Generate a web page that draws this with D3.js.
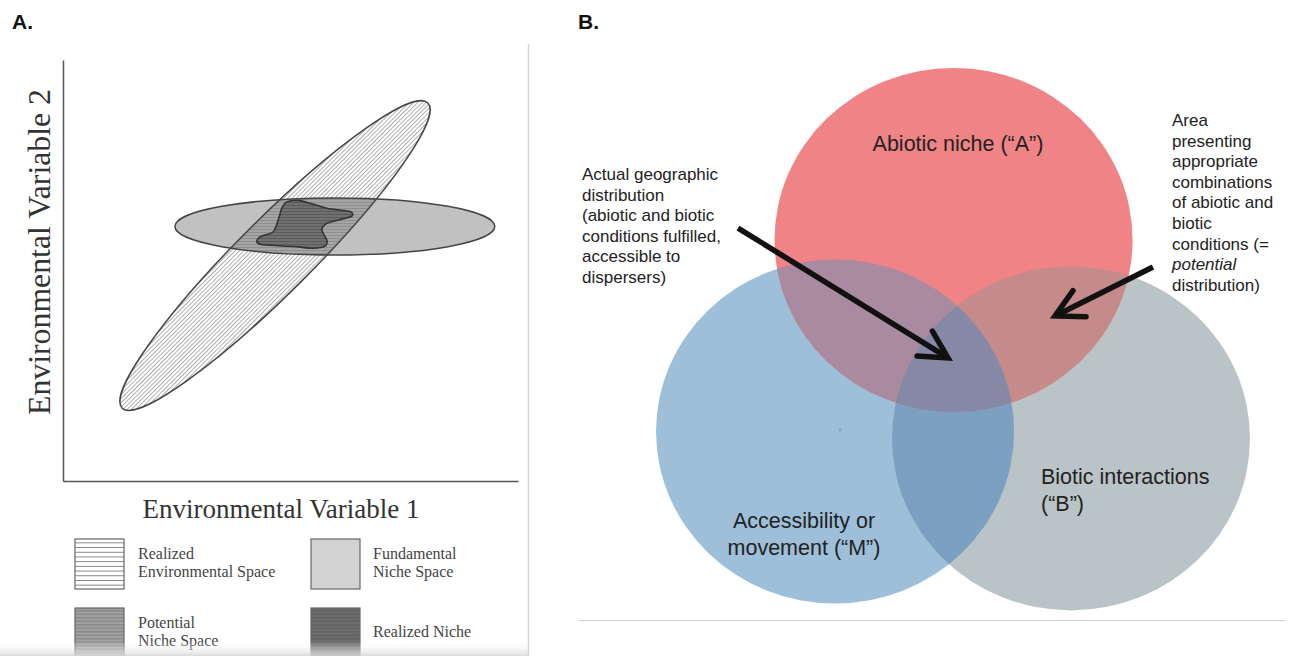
<!DOCTYPE html>
<html><head><meta charset="utf-8">
<script src="https://cdn.jsdelivr.net/npm/d3@7"></script>
<style>html,body{margin:0;padding:0;background:#fff;}svg{display:block}</style>
</head><body>
<svg id="chart" width="1294" height="656"></svg>
<script>
// ---------- Panel A data (abstract environmental units, 0–10) ----------
const panelLetters = ["A.", "B."];
const envAxisLabels = ["Environmental Variable 1", "Environmental Variable 2"];
const realizedEnvEndsX = [1.30, 8.02];     // diagonal ellipse, major-axis ends
const realizedEnvEndsY = [1.73, 8.98];
const realizedEnvHalfWidth = [0.81];       // minor semi-axis (x units)
const fundamentalX = [2.46, 9.49];         // horizontal ellipse extent
const fundamentalY = [6.045];
const fundamentalHalfHeight = [0.677];
const nicheBlobX = [4.92, 5.21, 5.80, 6.31, 6.35, 6.13, 5.80, 5.69, 5.80, 5.76, 5.50, 5.06, 4.40, 4.26, 4.33, 4.62, 4.73, 4.81];
const nicheBlobY = [6.63, 6.66, 6.48, 6.40, 6.29, 6.22, 6.12, 5.96, 5.72, 5.58, 5.53, 5.57, 5.61, 5.68, 5.80, 5.92, 6.20, 6.48];
const legendLabels = [["Realized", "Environmental Space"], ["Fundamental", "Niche Space"], ["Potential", "Niche Space"], ["Realized Niche"]];

// ---------- Panel B data (abstract units) ----------
const vennLabels = [["Abiotic niche (“A”)"], ["Accessibility or", "movement (“M”)"], ["Biotic interactions", "(“B”)"]];
const vennCX = [209.8, 143.6, 275.4];
const vennCY = [139.5, 250.9, 254.9];
const vennR = [100, 100, 100];
const annotLeft = ["Actual geographic", "distribution", "(abiotic and biotic", "conditions fulfilled,", "accessible to", "dispersers)"];
const annotRight = ["Area", "presenting", "appropriate", "combinations", "of abiotic and", "biotic", "conditions (=", "potential", "distribution)"];
const arrowTailX = [89.4, 321.2], arrowTailY = [132.6, 155.2];
const arrowTipX = [206.7, 266.5], arrowTipY = [208.1, 183.7];

const svg = d3.select("#chart");
const defs = svg.append("defs");
const sans = "'Liberation Sans', Arial, Helvetica, sans-serif";
const serif = "'Liberation Serif', 'Times New Roman', serif";

// patterns
function hatch(id, spacing, color, width, bg) {
  const p = defs.append("pattern").attr("id", id).attr("patternUnits", "userSpaceOnUse")
    .attr("width", 10).attr("height", spacing);
  if (bg) p.append("rect").attr("width", 10).attr("height", spacing).attr("fill", bg);
  p.append("line").attr("x1", 0).attr("x2", 10).attr("y1", spacing / 2).attr("y2", spacing / 2)
    .attr("stroke", color).attr("stroke-width", width);
}
hatch("hatchWhite", 3, "#9a9a9a", 0.8, "#ffffff");
hatch("hatchOver", 3, "#8a8a8a", 0.8, null);
hatch("hatchDark", 3, "#555", 0.8, null);
hatch("legHatch", 4.7, "#777", 0.9, "#ffffff");
hatch("legHatchMid", 3.5, "#7c7c7c", 1, "#a2a2a2");
hatch("legHatchDark", 3.5, "#585858", 1, "#6e6e6e");

// ---------- Panel A ----------
const xA = d3.scaleLinear().domain([0, 10]).range([63, 518]);
const yA = d3.scaleLinear().domain([0, 10]).range([481, 60]);

svg.append("text").attr("x", 12).attr("y", 29).text(panelLetters[0])
  .attr("font-family", sans).attr("font-weight", "bold").attr("font-size", 21).attr("fill", "#111");

// diagonal ellipse geometry
const p1 = [xA(realizedEnvEndsX[0]), yA(realizedEnvEndsY[0])];
const p2 = [xA(realizedEnvEndsX[1]), yA(realizedEnvEndsY[1])];
const dCx = (p1[0] + p2[0]) / 2, dCy = (p1[1] + p2[1]) / 2;
const dRx = Math.hypot(p2[0] - p1[0], p2[1] - p1[1]) / 2;
const dRy = xA(realizedEnvHalfWidth[0]) - xA(0);
const dAng = Math.atan2(p2[1] - p1[1], p2[0] - p1[0]) * 180 / Math.PI;
function diagEllipse(sel) {
  return sel.append("ellipse").attr("cx", 0).attr("cy", 0).attr("rx", dRx).attr("ry", dRy)
    .attr("transform", `translate(${dCx},${dCy}) rotate(${dAng})`);
}
// horizontal ellipse geometry
const hCx = xA((fundamentalX[0] + fundamentalX[1]) / 2);
const hRx = (xA(fundamentalX[1]) - xA(fundamentalX[0])) / 2;
const hCy = yA(fundamentalY[0]);
const hRy = yA(0) - yA(fundamentalHalfHeight[0]);
function horizEllipse(sel) {
  return sel.append("ellipse").attr("cx", hCx).attr("cy", hCy).attr("rx", hRx).attr("ry", hRy);
}
diagEllipse(defs.append("clipPath").attr("id", "clipDiag"));

const gA = svg.append("g");
diagEllipse(gA).attr("fill", "url(#hatchWhite)");
horizEllipse(gA).attr("fill", "#c1c1c1");
const gOver = gA.append("g").attr("clip-path", "url(#clipDiag)");
horizEllipse(gOver).attr("fill", "#a4a4a4");
horizEllipse(gOver).attr("fill", "url(#hatchOver)");

const blobPts = nicheBlobX.map((v, i) => [v, nicheBlobY[i]]);
const blobLine = d3.line().x(d => xA(d[0])).y(d => yA(d[1])).curve(d3.curveCardinalClosed.tension(0.2));
gA.append("path").attr("d", blobLine(blobPts)).attr("fill", "#707070");
gA.append("path").attr("d", blobLine(blobPts)).attr("fill", "url(#hatchDark)")
  .attr("stroke", "#333").attr("stroke-width", 1.6);
diagEllipse(gA).attr("fill", "none").attr("stroke", "#444").attr("stroke-width", 1.5);
horizEllipse(gA).attr("fill", "none").attr("stroke", "#444").attr("stroke-width", 1.5);

// axes (no ticks)
const axX = svg.append("g").attr("transform", `translate(0,${yA(0)})`)
  .call(d3.axisBottom(xA).tickValues([]).tickSizeOuter(0));
const axY = svg.append("g").attr("transform", `translate(${xA(0)},0)`)
  .call(d3.axisLeft(yA).tickValues([]).tickSizeOuter(0));
svg.selectAll(".domain").attr("stroke", "#555").attr("stroke-width", 1.5);

svg.append("text").attr("x", 281).attr("y", 518).attr("text-anchor", "middle")
  .attr("font-family", serif).attr("font-size", 27).attr("fill", "#333").text(envAxisLabels[0]);
svg.append("text").attr("transform", "translate(50,252) rotate(-90)").attr("text-anchor", "middle")
  .attr("font-family", serif).attr("font-size", 31).attr("fill", "#333")
  .attr("textLength", 326).attr("lengthAdjust", "spacingAndGlyphs").text(envAxisLabels[1]);

// legend
const legFills = ["url(#legHatch)", "#d3d3d3", "url(#legHatchMid)", "url(#legHatchDark)"];
const legBoxX = [75, 311, 75, 311], legBoxY = [539, 539, 608, 608];
const legTextX = [138, 373, 138, 373];
const legTextY = [[559, 577], [559, 577], [628, 646], [637]];
legendLabels.forEach((lab, i) => {
  svg.append("rect").attr("x", legBoxX[i]).attr("y", legBoxY[i]).attr("width", 49).attr("height", 50)
    .attr("fill", legFills[i]).attr("stroke", "#666").attr("stroke-width", 1.2);
  lab.forEach((t, j) => {
    svg.append("text").attr("x", legTextX[i]).attr("y", legTextY[i][j]).text(t)
      .attr("font-family", serif).attr("font-size", 16).attr("fill", "#444");
  });
});
// soft bottom shading & right separator of panel A
const grad = defs.append("linearGradient").attr("id", "fadeA").attr("x1", 0).attr("x2", 0).attr("y1", 0).attr("y2", 1);
grad.append("stop").attr("offset", 0).attr("stop-color", "#fff").attr("stop-opacity", 0);
grad.append("stop").attr("offset", 1).attr("stop-color", "#d8d8d8").attr("stop-opacity", 0.9);
svg.append("rect").attr("x", 0).attr("y", 641).attr("width", 528).attr("height", 15).attr("fill", "url(#fadeA)");
svg.append("line").attr("x1", 528.5).attr("x2", 528.5).attr("y1", 44).attr("y2", 656)
  .attr("stroke", "#d6d6d6").attr("stroke-width", 1.5);

// ---------- Panel B ----------
const xB = d3.scaleLinear().domain([0, 400]).range([578, 1294]);
const yB = d3.scaleLinear().domain([0, 350]).range([0, 602]);

svg.append("text").attr("x", 578).attr("y", 29).text(panelLetters[1])
  .attr("font-family", sans).attr("font-weight", "bold").attr("font-size", 21).attr("fill", "#111");

function vennEllipse(sel, i) {
  return sel.append("ellipse").attr("cx", xB(vennCX[i])).attr("cy", yB(vennCY[i]))
    .attr("rx", xB(vennR[i]) - xB(0)).attr("ry", yB(vennR[i]) - yB(0));
}
const clipIds = ["clipRed", "clipBlue", "clipGray"];
clipIds.forEach((id, i) => vennEllipse(defs.append("clipPath").attr("id", id), i));

const gB = svg.append("g");
vennEllipse(gB, 1).attr("fill", "#9dbfd9");
vennEllipse(gB, 2).attr("fill", "#bac3c5");
vennEllipse(gB, 0).attr("fill", "#ef8385");
vennEllipse(gB.append("g").attr("clip-path", "url(#clipBlue)"), 2).attr("fill", "#7ba0c2");
vennEllipse(gB.append("g").attr("clip-path", "url(#clipBlue)"), 0).attr("fill", "#a98aa0");
vennEllipse(gB.append("g").attr("clip-path", "url(#clipGray)"), 0).attr("fill", "#c48b8a");
vennEllipse(gB.append("g").attr("clip-path", "url(#clipBlue)").append("g").attr("clip-path", "url(#clipGray)"), 0)
  .attr("fill", "#8589a6");
// tiny speck in the M circle
gB.append("circle").attr("cx", xB(146.5)).attr("cy", yB(250)).attr("r", 1.8).attr("fill", "#8ea8c0");

// labels in circles
svg.append("text").attr("x", 958).attr("y", 151).attr("text-anchor", "middle")
  .attr("font-family", sans).attr("font-size", 21.5).attr("fill", "#222").text(vennLabels[0][0]);
vennLabels[1].forEach((t, j) => svg.append("text").attr("x", 804).attr("y", 528 + j * 27)
  .attr("text-anchor", "middle").attr("font-family", sans).attr("font-size", 21.5).attr("fill", "#222").text(t));
vennLabels[2].forEach((t, j) => svg.append("text").attr("x", 1041).attr("y", 484 + j * 26.5)
  .attr("font-family", sans).attr("font-size", 21.5).attr("fill", "#222").text(t));

annotLeft.forEach((t, j) => svg.append("text").attr("x", 582).attr("y", 180 + j * 20.6)
  .attr("font-family", sans).attr("font-size", 17).attr("fill", "#222").text(t));
annotRight.forEach((t, j) => svg.append("text").attr("x", 1172).attr("y", 126 + j * 20.6)
  .attr("font-family", sans).attr("font-size", 17).attr("fill", "#222")
  .attr("font-style", t === "potential" ? "italic" : "normal").text(t));

// arrows
arrowTailX.forEach((_, i) => {
  const tx = xB(arrowTailX[i]), ty = yB(arrowTailY[i]);
  const hx = xB(arrowTipX[i]), hy = yB(arrowTipY[i]);
  const back = Math.atan2(ty - hy, tx - hx);
  const spread = 28 * Math.PI / 180, len = 31;
  const a1 = [hx + len * Math.cos(back - spread), hy + len * Math.sin(back - spread)];
  const a2 = [hx + len * Math.cos(back + spread), hy + len * Math.sin(back + spread)];
  svg.append("path").attr("d", `M${tx},${ty}L${hx},${hy}`)
    .attr("stroke", "#111").attr("stroke-width", 5.5).attr("fill", "none").attr("stroke-linecap", "butt");
  svg.append("path").attr("d", `M${a1[0]},${a1[1]}L${hx},${hy}L${a2[0]},${a2[1]}`)
    .attr("stroke", "#111").attr("stroke-width", 5.5).attr("fill", "none")
    .attr("stroke-linecap", "round").attr("stroke-linejoin", "miter");
});

svg.append("line").attr("x1", 578).attr("x2", 1286).attr("y1", 620.5).attr("y2", 620.5)
  .attr("stroke", "#d4d4d4").attr("stroke-width", 1.2);
</script>
</body></html>
